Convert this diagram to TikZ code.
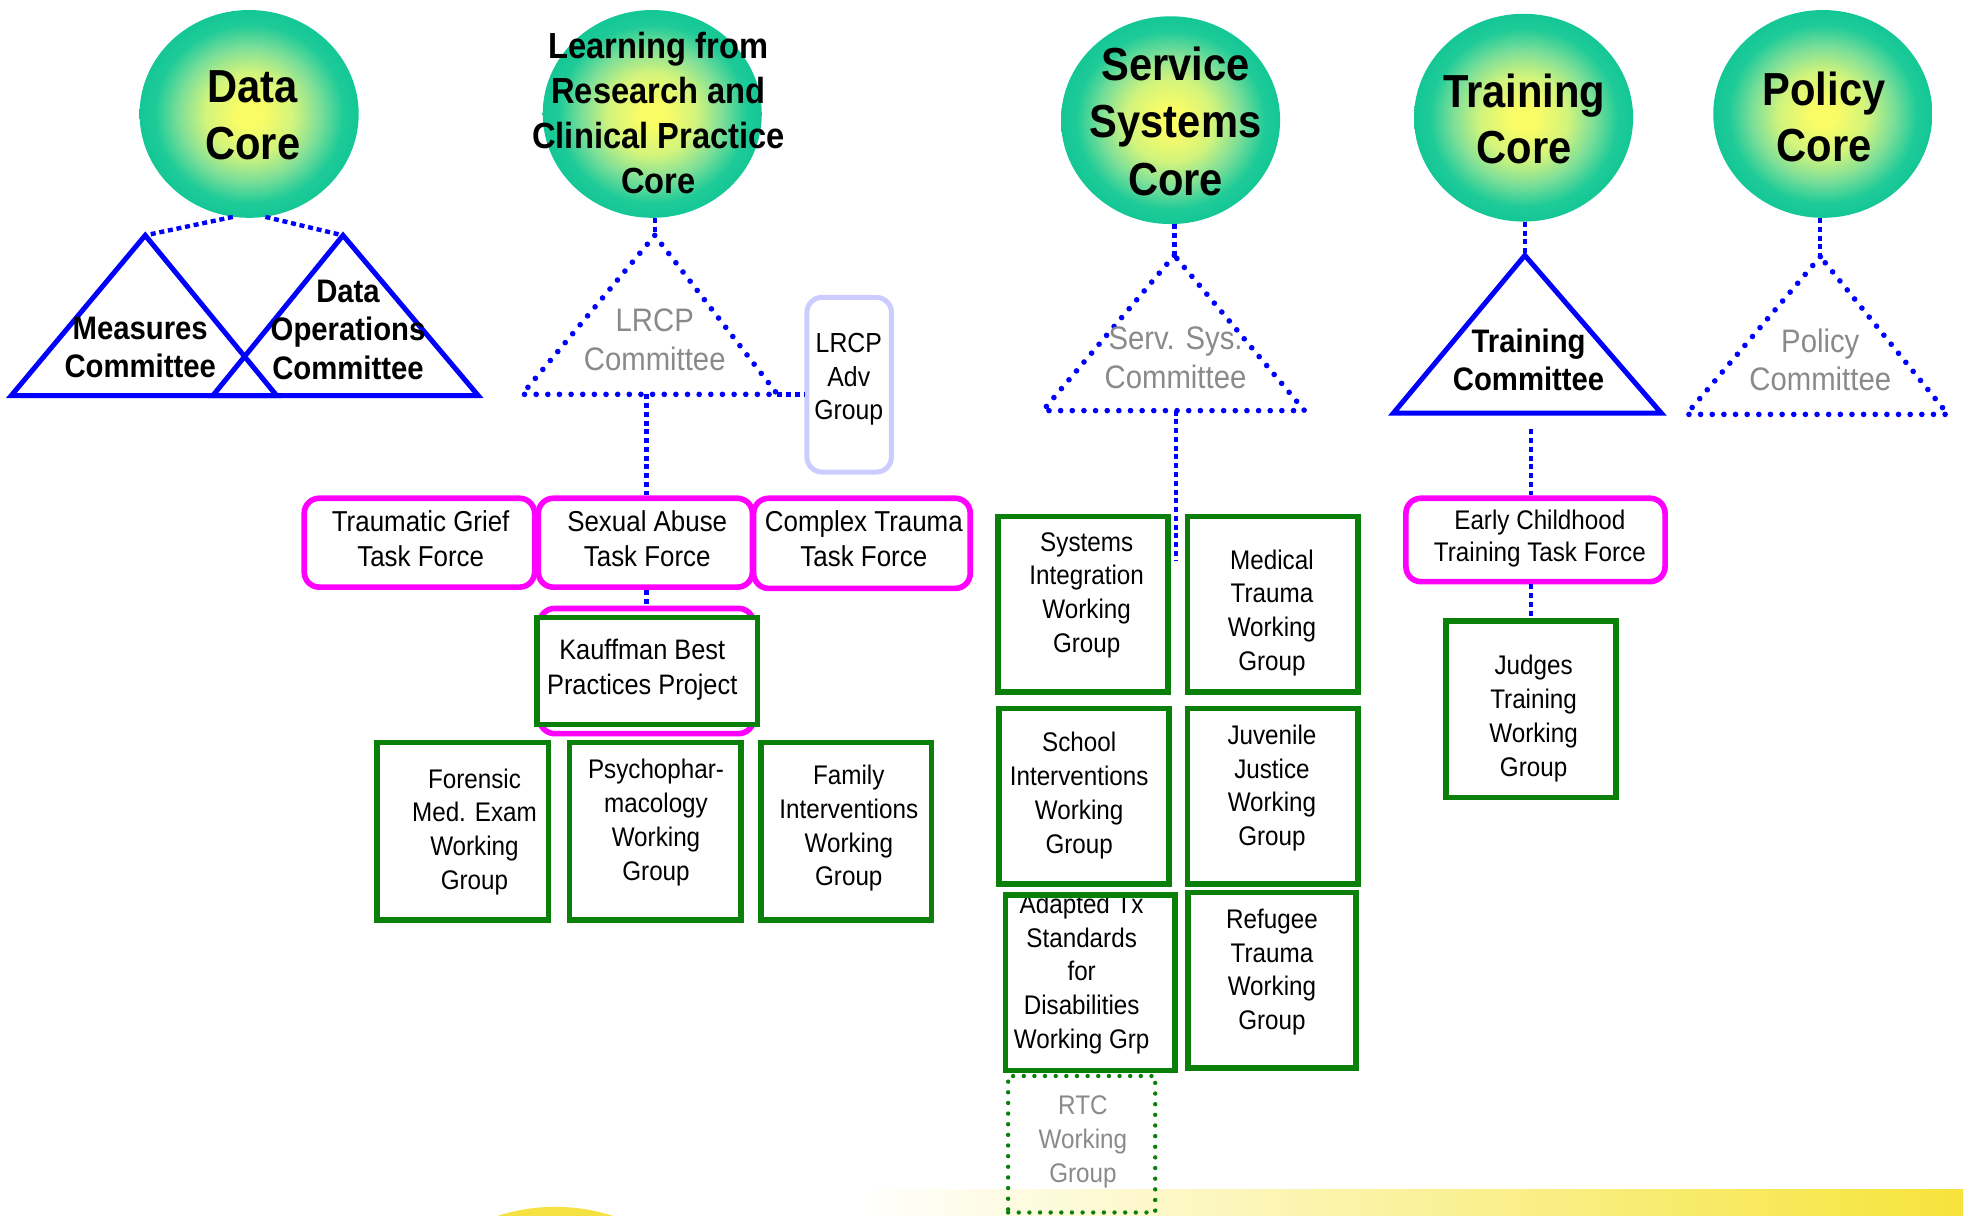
\documentclass[tikz,border=0pt]{standalone}
\usepackage{fontspec}
\setmainfont[FakeStretch=0.9]{Liberation Sans}
\usetikzlibrary{shapes.geometric,calc}

\definecolor{linkblue}{HTML}{0000FF}
\definecolor{tfmag}{HTML}{FF00FF}
\definecolor{wggreen}{HTML}{0A7F0A}
\definecolor{advlav}{HTML}{CCCCFF}
\definecolor{cmtgray}{HTML}{8A8A8A}
\definecolor{coreyel}{HTML}{FAFC66}
\definecolor{corelight}{HTML}{D2F47C}
\definecolor{coremid}{HTML}{7EDF98}
\definecolor{coreteal}{HTML}{1ECB98}
\definecolor{coreedge}{HTML}{14C796}
\definecolor{baryel}{HTML}{F6E43A}
\definecolor{ringyel}{HTML}{F5E142}

% ball shading for the core circles (the path fills the central 50bp)
\pgfdeclareradialshading{coreball}{\pgfpoint{0bp}{0bp}}{%
  color(0bp)=(coreyel); color(3bp)=(coreyel); color(10bp)=(corelight);
  color(16bp)=(coremid); color(21.5bp)=(coreteal); color(25bp)=(coreedge); color(50bp)=(coreedge)}
% fading band along the bottom edge
\pgfdeclarehorizontalshading{barfade}{100bp}{color(0bp)=(white); color(25bp)=(white); color(75bp)=(baryel); color(100bp)=(baryel)}

\begin{document}
\begin{tikzpicture}[x=1pt,y=-1pt,
  core/.style={ellipse, minimum width=175pt, minimum height=166pt, inner sep=0pt, shading=coreball},
  coretxt/.style={font=\bfseries\fontsize{37pt}{46pt}\selectfont, align=center, inner sep=0pt},
  lcoretxt/.style={font=\bfseries\fontsize{29pt}{36pt}\selectfont, align=center, inner sep=0pt},
  cmt/.style={font=\fontsize{26pt}{31pt}\selectfont, align=center, inner sep=0pt, text=cmtgray},
  cmtb/.style={font=\bfseries\fontsize{26pt}{31pt}\selectfont, align=center, inner sep=0pt},
  tftxt/.style={font=\fontsize{23pt}{28pt}\selectfont, align=center, inner sep=0pt},
  wgtxt/.style={font=\fontsize{21.5pt}{27pt}\selectfont, align=center, inner sep=0pt},
  grytxt/.style={wgtxt, text=cmtgray},
  advtxt/.style={font=\fontsize{22pt}{27pt}\selectfont, align=center, inner sep=0pt},
  tfbox/.style={draw=tfmag, line width=4.5pt, rounded corners=12pt, fill=white, inner sep=0pt},
  wgbox/.style={draw=wggreen, line width=4.5pt, fill=white, inner sep=0pt},
  rtcbox/.style={draw=wggreen, line width=3.5pt, line cap=round, dash pattern=on 0pt off 8.5pt, inner sep=0pt},
  advbox/.style={draw=advlav, line width=4pt, rounded corners=12pt, inner sep=0pt},
  link/.style={draw=linkblue, line width=3.5pt, dash pattern=on 4pt off 3pt},
  soltri/.style={draw=linkblue, line width=4pt, line join=miter},
  dottri/.style={draw=linkblue, line width=4.5pt, line cap=round, line join=round, dash pattern=on 0pt off 9.3pt}
]
\useasboundingbox (0,0) rectangle (1568,971);
\clip (0,0) rectangle (1568,971);

% ---- bottom decoration ----
\shade[shading=barfade] (679,950.5) rectangle (1568,975);
\draw[ringyel, line width=8pt] (443.5,1114) circle[radius=146pt];

% ---- core circles ----
\node[core] (dcore) at (199,91) {};
\node[core] (lcore) at (521,91) {};
\node[core] (score) at (935,96) {};
\node[core] (tcore) at (1217,94) {};
\node[core] (pcore) at (1456,91) {};

% ---- committee triangle corners ----
\coordinate (measA) at (116,188); \coordinate (measL) at (9,316);   \coordinate (measR) at (221,316);
\coordinate (dopsA) at (274,188); \coordinate (dopsL) at (170,316); \coordinate (dopsR) at (382,316);
\coordinate (lrcpA) at (523,188); \coordinate (lrcpL) at (417,315); \coordinate (lrcpR) at (621,315);
\coordinate (lrcpM) at (516.5,315);
\coordinate (sstA) at (938,204);  \coordinate (sstL) at (833,328);  \coordinate (sstR) at (1042,328);
\coordinate (sstM) at (939.5,328); \coordinate (sstEnd) at (939.5,448);
\coordinate (trnA) at (1218,204); \coordinate (trnL) at (1113,330); \coordinate (trnR) at (1327,330);
\coordinate (trnBelow) at (1223,343);
\coordinate (polA) at (1454,205); \coordinate (polL) at (1347,331); \coordinate (polR) at (1556,331);

% ---- boxes ----
\node[advbox, minimum width=67.5pt, minimum height=139.5pt] (adv) at (678.3,307.3) {};
\node[tfbox, minimum width=184pt, minimum height=71pt] (tgtf) at (335,433.5) {};
\node[tfbox, minimum width=171pt, minimum height=71pt] (satf) at (515.5,433.5) {};
\node[tfbox, minimum width=173pt, minimum height=72pt] (cttf) at (688.5,434) {};
\node[tfbox, minimum width=207pt, minimum height=66.6pt] (ectf) at (1226.5,431.3) {};

% ---- connectors ----
\draw[link] (dcore.261) -- (measA);
\draw[link] (dcore.279) -- (dopsA);
\draw[link] (lrcpA |- lcore.south) -- (lrcpA);
\draw[link] (lrcpM) -- (lrcpM |- satf.north);
\draw[link] (lrcpR) -- (adv.west |- lrcpR);
\draw[link] (satf.south -| lrcpM) -- ($(satf.south -| lrcpM)+(0,24)$) coordinate (kbpTop);
\draw[link] (sstA |- score.south) -- (sstA);
\draw[link] (sstM) -- (sstEnd);
\draw[link] (trnA |- tcore.south) -- (trnA);
\draw[link] (trnBelow) -- (trnBelow |- ectf.north);
\draw[link] (polA |- pcore.south) -- (polA);

% ---- triangles ----
\draw[soltri] (measA) -- (measL) -- (measR) -- cycle;
\draw[soltri] (dopsA) -- (dopsL) -- (dopsR) -- cycle;
\draw[dottri] (lrcpA) -- (lrcpL) -- (lrcpR) -- cycle;
\draw[dottri] (sstA) -- (sstL) -- (sstR) -- cycle;
\draw[soltri] (trnA) -- (trnL) -- (trnR) -- cycle;
\draw[dottri] (polA) -- (polL) -- (polR) -- cycle;

% ---- Kauffman project: task force frame behind a working group frame ----
\node[tfbox, minimum width=171pt, minimum height=100pt] (kbpm) at (516.5,536) {};
\node[wgbox, minimum width=176pt, minimum height=85.5pt] (kbp) at (517,536) {};

% ---- working groups ----
\node[wgbox, minimum width=137pt, minimum height=142pt] (fmwg) at (369.5,664) {};
\node[wgbox, minimum width=137pt, minimum height=142pt] (pswg) at (523.5,664) {};
\node[wgbox, minimum width=136pt, minimum height=142pt] (fiwg) at (676,664) {};
\node[wgbox, minimum width=135.5pt, minimum height=140pt] (siwg) at (865,482.6) {};
\node[wgbox, minimum width=136.5pt, minimum height=140pt] (mtwg) at (1016.7,482.6) {};
\node[wgbox, minimum width=136pt, minimum height=140pt] (scwg) at (866,636) {};
\node[wgbox, minimum width=136.5pt, minimum height=140pt] (jjwg) at (1016.7,636) {};
\node[wgbox, minimum width=134.5pt, minimum height=140pt] (rfwg) at (1016,783) {};
\node[rtcbox, minimum width=117.5pt, minimum height=109pt] (rtcwg) at (864,914) {};
\node[wgbox, minimum width=136pt, minimum height=141pt] (jtwg) at (1223,566.4) {};
\draw[link] (jtwg.north |- ectf.south) -- (jtwg.north);

% ---- texts ----
\node[coretxt] (dcore-t) at (202,92) {Data\\Core};
\node[lcoretxt] (lcore-t) at (526,90) {Learning from\\Research and\\Clinical Practice\\Core};
\node[coretxt] (score-t) at (939,97) {Service\\Systems\\Core};
\node[coretxt, font=\bfseries\fontsize{37pt}{44pt}\selectfont] (tcore-t) at (1217.5,95) {Training\\Core};
\node[coretxt, font=\bfseries\fontsize{37pt}{45pt}\selectfont] (pcore-t) at (1457,93.5) {Policy\\Core};

\node[cmtb] (meas-t) at (112,277.5) {Measures\\Committee};
\node[cmtb] (dops-t) at (278,263.5) {Data\\Operations\\Committee};
\node[cmt] (lrcp-t) at (523,271.5) {LRCP\\Committee};
\node[cmt] (sst-t) at (939,285.5) {Serv. Sys.\\Committee};
\node[cmtb] (trn-t) at (1221,287.5) {Training\\Committee};
\node[cmt] (pol-t) at (1454,287.5) {Policy\\Committee};

\node[advtxt] (adv-t) at (678,303) {LRCP\\Adv\\Group};
\node[tftxt] (tgtf-t) at (336,430) {Traumatic Grief\\Task Force};
\node[tftxt] (satf-t) at (517,430) {Sexual Abuse\\Task Force};
\node[tftxt] (cttf-t) at (690,430) {Complex Trauma\\Task Force};
\node[tftxt, font=\fontsize{22.5pt}{28pt}\selectfont] (kbp-t) at (513,535) {Kauffman Best\\Practices Project};
\node[wgtxt, font=\fontsize{21.5pt}{26pt}\selectfont] (ectf-t) at (1230,430) {Early Childhood\\Training Task Force};

\node[wgtxt] (fmwg-t) at (379,664.5) {Forensic\\Med. Exam\\Working\\Group};
\node[wgtxt] (pswg-t) at (524,657) {Psychophar-\\macology\\Working\\Group};
\node[wgtxt] (fiwg-t) at (678,661.5) {Family\\Interventions\\Working\\Group};
\node[wgtxt] (siwg-t) at (868,475.5) {Systems\\Integration\\Working\\Group};
\node[wgtxt] (mtwg-t) at (1016,489.5) {Medical\\Trauma\\Working\\Group};
\node[wgtxt] (scwg-t) at (862,635.5) {School\\Interventions\\Working\\Group};
\node[wgtxt] (jjwg-t) at (1016,629.5) {Juvenile\\Justice\\Working\\Group};
\node[wgtxt] (adwg-t) at (864,778) {Adapted Tx\\Standards\\for\\Disabilities\\Working Grp};
\node[wgbox, fill=none, minimum width=135.6pt, minimum height=140pt] (adwg) at (871,785) {};
\node[wgtxt] (rfwg-t) at (1016,776.5) {Refugee\\Trauma\\Working\\Group};
\node[grytxt] (rtcwg-t) at (865,912) {RTC\\Working\\Group};
\node[wgtxt] (jtwg-t) at (1225,574) {Judges\\Training\\Working\\Group};
\end{tikzpicture}
\end{document}
